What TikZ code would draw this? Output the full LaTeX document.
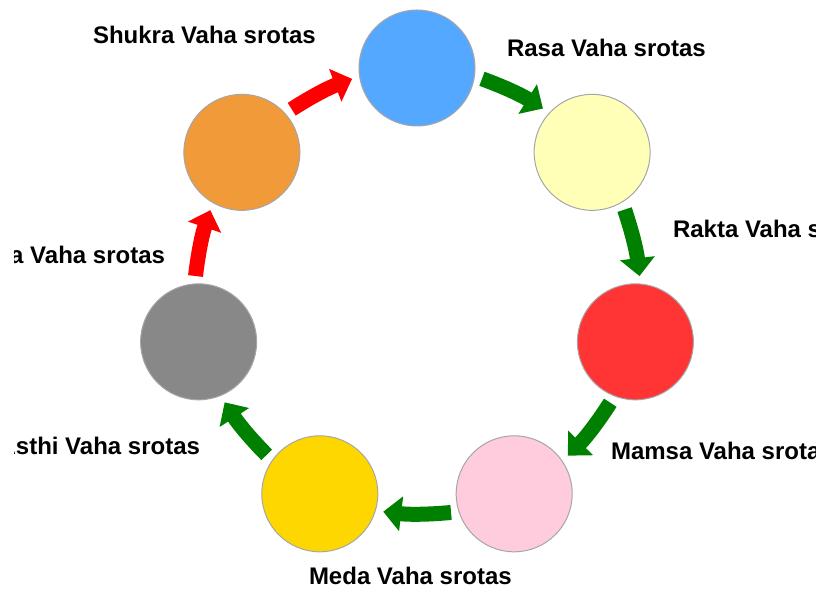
\documentclass[tikz,border=0pt]{standalone}
\usepackage{fontspec}
\setmainfont{Liberation Sans}
\usetikzlibrary{arrows.meta,calc}
\definecolor{cblue}{HTML}{55A8FF}
\definecolor{cyellow}{HTML}{FFFFB8}
\definecolor{cred}{HTML}{FF3535}
\definecolor{cpink}{HTML}{FFCCDD}
\definecolor{cgold}{HTML}{FFD700}
\definecolor{cgray}{HTML}{888888}
\definecolor{corange}{HTML}{F09A3A}
\definecolor{ballborder}{HTML}{A6A6A6}
\definecolor{agreen}{HTML}{008000}
\definecolor{ared}{HTML}{FF0000}
\begin{document}
\begin{tikzpicture}[x=1pt,y=1pt,
  ball/.style={circle, draw=ballborder, line width=1pt, minimum size=116pt, inner sep=0pt, outer sep=0pt},
  flow/.style={line width=15pt, -{Triangle[length=18pt,width=34pt]}, shorten <=8pt, shorten >=8pt, bend left=6},
  lbl/.style={font=\fontsize{24}{28}\selectfont\bfseries, text height=17.5pt, text depth=0pt, inner sep=0pt, outer sep=0pt}]
\useasboundingbox (0,0) rectangle (821,591);
\fill[white] (0,0) rectangle (821,591);
\coordinate (C) at (417,299);
\node[ball, fill=cblue]   (blue)   at ($(C)+(90:224)$) {};
\node[ball, fill=cyellow] (yellow) at ($(C)+(38.571:224)$) {};
\node[ball, fill=cred]    (red)    at ($(C)+(-12.857:224)$) {};
\node[ball, fill=cpink]   (pink)   at ($(C)+(-64.286:224)$) {};
\node[ball, fill=cgold]   (gold)   at ($(C)+(-115.714:224)$) {};
\node[ball, fill=cgray]   (gray)   at ($(C)+(-167.143:224)$) {};
\node[ball, fill=corange] (orange) at ($(C)+(141.429:224)$) {};
\draw[flow, ared]   (orange.42.93) to (blue.188.5);
\draw[flow, agreen] (blue.-8.5) to (yellow.137.07);
\draw[flow, agreen] (yellow.-59.93) to (red.85.64);
\draw[flow, agreen] (red.-111.36) to (pink.34.21);
\draw[flow, agreen] (pink.-162.79) to (gold.-17.21);
\draw[flow, agreen] (gold.145.79) to (gray.-68.64);
\draw[flow, ared]   (gray.94.36) to (orange.-120.07);
\begin{scope}
\clip (14,0) rectangle (815,591);
\node[lbl, anchor=west] (tshukra) at (93,556) {Shukra Vaha srotas};
\node[lbl, anchor=west] (trasa) at (507,543) {Rasa Vaha srotas};
\node[lbl, anchor=west] (trakta) at (673,362) {Rakta Vaha srotas};
\node[lbl, anchor=west] (tmamsa) at (611,140) {Mamsa Vaha srotas};
\node[lbl, anchor=west] (tmeda) at (309,15) {Meda Vaha srotas};
\node[lbl, anchor=east] (tasthi) at (200,145) {Asthi Vaha srotas};
\node[lbl, anchor=east] (tmajja) at (165,336) {Majja Vaha srotas};
\end{scope}
\end{tikzpicture}
\end{document}
